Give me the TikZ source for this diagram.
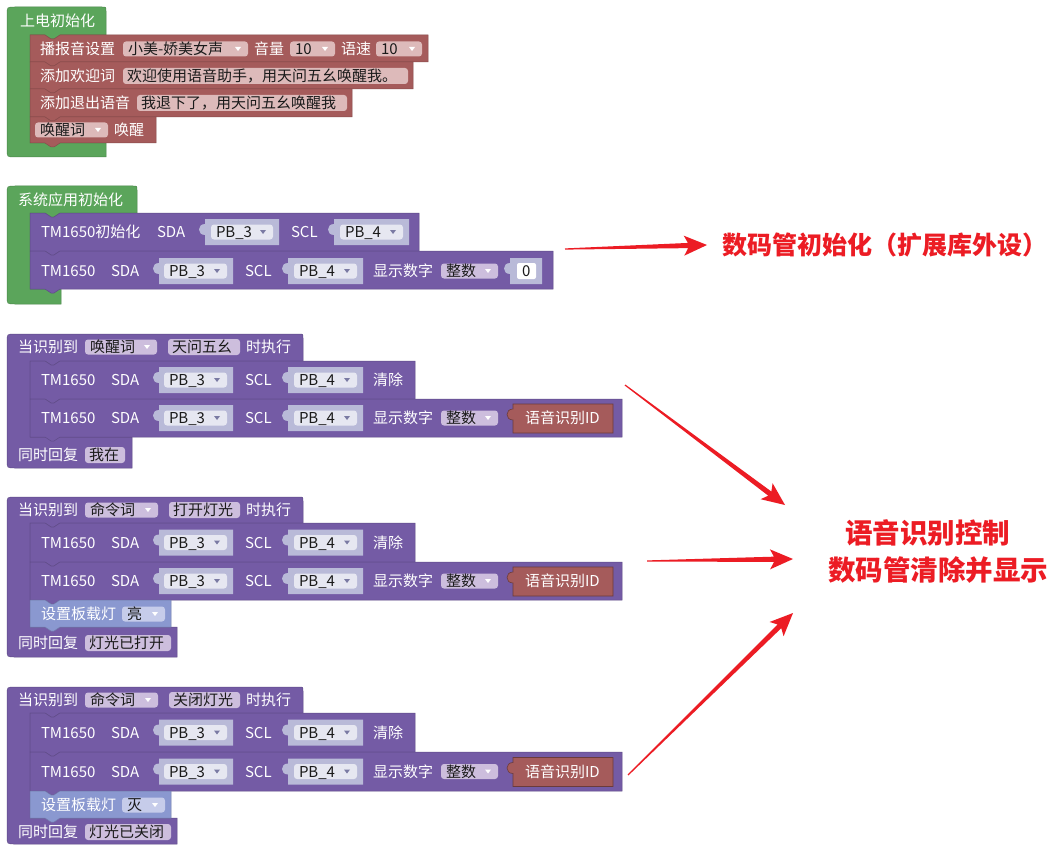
\documentclass[tikz,border=0pt]{standalone}
\usepackage{fontspec}
\newfontfamily\cjk{Noto Sans CJK SC}
\usetikzlibrary{calc}
\definecolor{bgreen}{HTML}{5BA55B}
\definecolor{bred}{HTML}{A55B5B}
\definecolor{bpurple}{HTML}{745BA5}
\definecolor{bblue}{HTML}{8A98D0}
\definecolor{sockfill}{HTML}{B9BAD8}
\definecolor{ddlight}{HTML}{E6E7F1}
\definecolor{ddarrow}{HTML}{7A7AA3}
\definecolor{pfield}{HTML}{CDBEDD}
\definecolor{rfield}{HTML}{DDBABA}
\definecolor{bfield}{HTML}{C6CCEA}
\definecolor{fieldtext}{HTML}{1A1A1A}
\definecolor{arrowred}{HTML}{EC1C24}
\newcounter{nn}
\tikzset{
  txt/.style={inner sep=0pt, outer sep=0pt, anchor=base west, font=\cjk\fontsize{15}{15}\selectfont},
  redtxt/.style={inner sep=0pt, outer sep=0pt, anchor=base west, text=arrowred, font=\cjk\bfseries\fontsize{#1}{#1}\selectfont},
  blockedge/.style={line width=0.5pt}
}
% label: [colour]{x}{yc}{text}
\newcommand\lbl[4][white]{\stepcounter{nn}\node[txt,text=#1] (n\thenn) at (#2,#3+5.5) {#4};}
% dropdown: x1 x2 yc text fill arrowfill
\newcommand\dd[6]{%
  \fill[#5, rounded corners=3pt] (#1,#3-7.5) rectangle (#2,#3+7.5);
  \lbl[fieldtext]{#1+5}{#3}{#4}
  \fill[#6] (#2-13,#3-2) -- (#2-7,#3-2) -- (#2-10,#3+2) -- cycle;}
% text field: x1 x2 yc text fill
\newcommand\tf[5]{%
  \fill[#5, rounded corners=3pt] (#1,#3-8) rectangle (#2,#3+8);
  \lbl[fieldtext]{#1+4}{#3}{#4}}
% empty input socket: x1 x2 yc
\newcommand\sock[3]{%
  \fill[sockfill] (#1,#3-13) -- (#1,#3-8) .. controls (#1-8,#3-8) and (#1-8,#3+3) .. (#1,#3+3) -- (#1,#3+13) -- (#2,#3+13) -- (#2,#3-13) -- cycle;}
% statement block: colour x1 y1 x2 y2
\newcommand\stmt[5]{%
  \path[fill=#1, draw=#1!82!black, blockedge] (#2,#3) -- (#2+15,#3) -- (#2+21,#3+4) -- (#2+24,#3+4) -- (#2+30,#3) -- (#4,#3) -- (#4,#5) -- (#2+30,#5) -- (#2+24,#5+4) -- (#2+21,#5+4) -- (#2+15,#5) -- (#2,#5) -- cycle;}
% C-shaped container: colour y0 xr yh ya xa yb
\newcommand\cont[7]{%
  \path[fill=#1, draw=#1!82!black, blockedge] (7,#2+8) .. controls (7,#2) .. (15,#2) -- (#3-4,#2) .. controls (#3,#2) .. (#3,#2+4) -- (#3,#4) -- (60,#4) -- (54,#4+4) -- (51,#4+4) -- (45,#4) -- (30,#4) -- (30,#5) -- (#6,#5) -- (#6,#7) -- (15,#7) .. controls (7,#7) .. (7,#7-8) -- cycle;}
% TM1650 SDA/SCL row
\newcommand\tmrow[1]{%
  \lbl{41}{#1}{TM1650}\lbl{111}{#1}{SDA}
  \sock{159}{233}{#1}\dd{164}{227}{#1}{PB\_3}{ddlight}{ddarrow}
  \lbl{245}{#1}{SCL}
  \sock{288}{363}{#1}\dd{294}{357}{#1}{PB\_4}{ddlight}{ddarrow}}
% speech-id reporter block
\newcommand\idblock[1]{%
  \path[fill=bred, draw=bred!65!black, line width=0.6pt] (513,#1-14) -- (513,#1-9) .. controls (505,#1-9) and (505,#1+2) .. (513,#1+2) -- (513,#1+15) -- (613,#1+15) -- (613,#1-14) -- cycle;
  \lbl{525}{#1}{语音识别ID}}
% red annotation arrow from coordinate #1 to coordinate #2
\newcommand\redarrow[2]{%
  \fill[arrowred] let \p1=(#1), \p2=(#2), \n1={atan2(\y2-\y1,\x2-\x1)}, \n2={veclen(\x2-\x1,\y2-\y1)} in
   [shift={(\p1)}, rotate=\n1]
   (0pt,0.6pt) -- ({\n2-19pt},2.6pt) -- ({\n2-23pt},10pt) -- ({\n2+0pt},0pt) -- ({\n2-23pt},-10pt) -- ({\n2-19pt},-2.6pt) -- (0pt,-0.6pt) -- cycle;}
\begin{document}
\begin{tikzpicture}[x=1pt,y=-1pt]
\useasboundingbox (0,0) rectangle (1054,845);
\fill[white] (0,0) rectangle (1054,845);

% ---------- block 1: power-on init ----------
\cont{bgreen}{7}{106}{35}{143}{106}{157}
\lbl{20}{21}{上电初始化}
\stmt{bred}{30}{35}{428}{62}
\stmt{bred}{30}{62}{413}{89}
\stmt{bred}{30}{89}{352}{117}
\stmt{bred}{30}{117}{156}{143}
\lbl{40}{49}{播报音设置}
\dd{123}{248}{49}{小美-娇美女声}{rfield}{white}
\lbl{254}{49}{音量}
\dd{290}{335}{49}{10}{rfield}{white}
\lbl{341}{49}{语速}
\dd{376}{422}{49}{10}{rfield}{white}
\lbl{40}{76}{添加欢迎词}
\tf{123}{408}{76}{欢迎使用语音助手，用天问五幺唤醒我。}{rfield}
\lbl{40}{103}{添加退出语音}
\tf{137}{347}{103}{我退下了，用天问五幺唤醒我}{rfield}
\dd{35}{108}{130}{唤醒词}{rfield}{white}
\lbl{114}{130}{唤醒}

% ---------- block 2: system init ----------
\cont{bgreen}{186}{137}{213}{289}{61}{304}
\lbl{18}{200}{系统应用初始化}
\stmt{bpurple}{30}{213}{419}{251}
\stmt{bpurple}{30}{251}{553}{289}
\lbl{41}{232}{TM1650初始化}\lbl{157}{232}{SDA}
\sock{205}{279}{232}\dd{211}{273}{232}{PB\_3}{ddlight}{ddarrow}
\lbl{291}{232}{SCL}
\sock{334}{409}{232}\dd{340}{403}{232}{PB\_4}{ddlight}{ddarrow}
\tmrow{271}
\lbl{373}{271}{显示数字}
\dd{441}{498}{271}{整数}{pfield}{white}
\sock{510}{542}{271}
\fill[white, rounded corners=2pt] (517,263) rectangle (536,279);
\lbl[fieldtext]{522}{271}{0}

% ---------- event 1 ----------
\cont{bpurple}{334}{303}{361}{437}{132}{468}
\lbl{18}{347}{当识别到}
\dd{85}{157}{347}{唤醒词}{pfield}{white}
\tf{168}{240}{347}{天问五幺}{pfield}
\lbl{246}{347}{时执行}
\stmt{bpurple}{30}{361}{415}{399}
\stmt{bpurple}{30}{399}{622}{437}
\tmrow{380}\lbl{373}{380}{清除}
\tmrow{418}\lbl{373}{418}{显示数字}
\dd{441}{498}{418}{整数}{pfield}{white}
\idblock{418}
\lbl{18}{455}{同时回复}
\tf{85}{125}{455}{我在}{pfield}

% ---------- event 2 ----------
\cont{bpurple}{497}{303}{523}{627}{177}{657}
\lbl{18}{510}{当识别到}
\dd{85}{158}{510}{命令词}{pfield}{white}
\tf{169}{240}{510}{打开灯光}{pfield}
\lbl{246}{510}{时执行}
\stmt{bpurple}{30}{523}{415}{562}
\stmt{bpurple}{30}{562}{622}{600}
\stmt{bblue}{30}{600}{171}{627}
\tmrow{542.5}\lbl{373}{542.5}{清除}
\tmrow{581}\lbl{373}{581}{显示数字}
\dd{441}{498}{581}{整数}{pfield}{white}
\idblock{581}
\lbl{41}{614}{设置板载灯}
\dd{122}{165}{614}{亮}{bfield}{white}
\lbl{18}{643}{同时回复}
\tf{85}{171}{643}{灯光已打开}{pfield}

% ---------- event 3 ----------
\cont{bpurple}{687}{303}{713}{818}{177}{844}
\lbl{18}{700}{当识别到}
\dd{85}{158}{700}{命令词}{pfield}{white}
\tf{169}{240}{700}{关闭灯光}{pfield}
\lbl{246}{700}{时执行}
\stmt{bpurple}{30}{713}{415}{752}
\stmt{bpurple}{30}{752}{622}{791}
\stmt{bblue}{30}{791}{171}{818}
\tmrow{732.5}\lbl{373}{732.5}{清除}
\tmrow{771.5}\lbl{373}{771.5}{显示数字}
\dd{441}{498}{771.5}{整数}{pfield}{white}
\idblock{771.5}
\lbl{41}{805}{设置板载灯}
\dd{122}{165}{805}{灭}{bfield}{white}
\lbl{18}{832}{同时回复}
\tf{85}{171}{832}{灯光已关闭}{pfield}

% ---------- annotations ----------
\node[redtxt=25] (note1) at (722,245+9.5) {数码管初始化（扩展库外设）};
\node[redtxt=27.5] (note2a) at (845,533+10.4) {语音识别控制};
\node[redtxt=27.5] (note2b) at (828,570+10.4) {数码管清除并显示};
\coordinate (a1s) at (565,249); \coordinate (a1e) at (707,245);
\coordinate (a2s) at (625,385); \coordinate (a2e) at (785,505);
\coordinate (a3s) at (647,561); \coordinate (a3e) at (793,559);
\coordinate (a4s) at (628,775); \coordinate (a4e) at (793,613);
\redarrow{a1s}{a1e}
\redarrow{a2s}{a2e}
\redarrow{a3s}{a3e}
\redarrow{a4s}{a4e}
\end{tikzpicture}
\end{document}
